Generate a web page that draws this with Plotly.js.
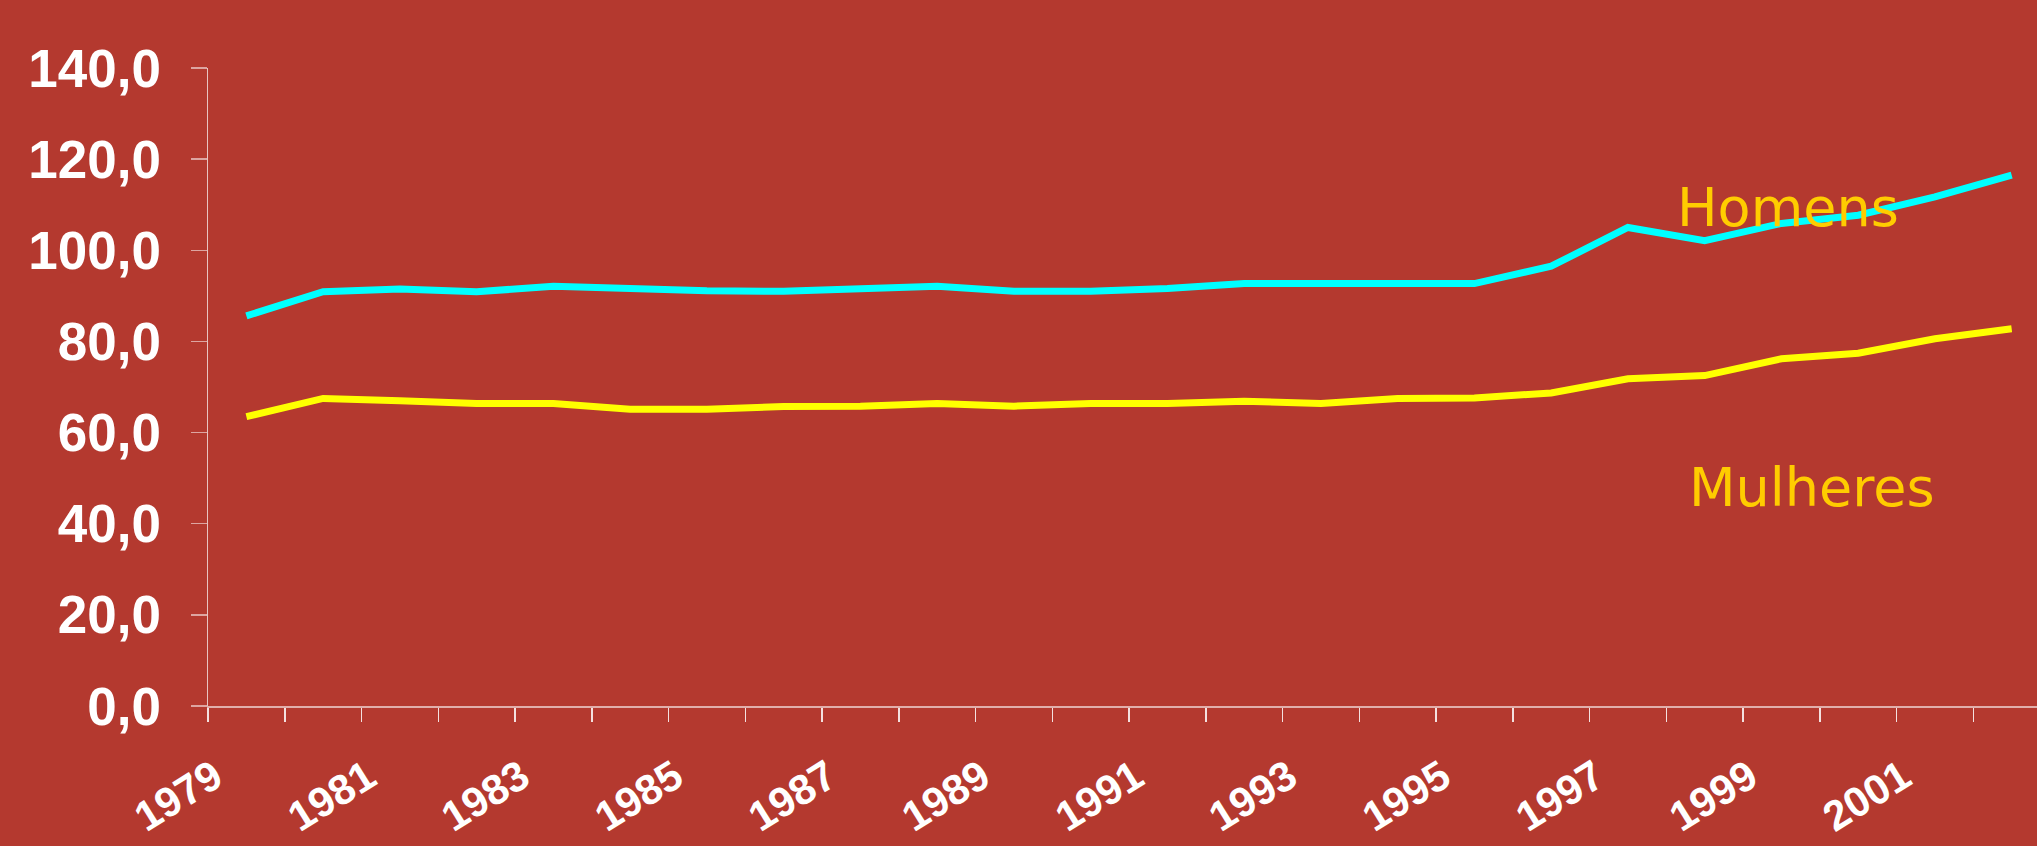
<!DOCTYPE html>
<html>
<head>
<meta charset="utf-8">
<script src="https://cdn.plot.ly/plotly-3.0.1.min.js"></script>
<style>
  html, body { margin: 0; padding: 0; background: #B4392F; }
  #chart { width: 2037px; height: 846px; }
</style>
</head>
<body>
<div id="chart"></div>
<script>
const years = [1979, 1980, 1981, 1982, 1983, 1984, 1985, 1986, 1987, 1988, 1989, 1990,
               1991, 1992, 1993, 1994, 1995, 1996, 1997, 1998, 1999, 2000, 2001, 2002];
const homens = [85.6, 90.9, 91.5, 90.9, 92.1, 91.5, 91.1, 91.0, 91.5, 92.1, 91.0, 91.0,
                91.6, 92.7, 92.7, 92.7, 92.7, 96.5, 105.0, 102.1, 105.9, 107.7, 111.7, 116.5];
const mulheres = [63.5, 67.5, 67.0, 66.4, 66.4, 65.1, 65.1, 65.7, 65.8, 66.4, 65.8, 66.4,
                  66.4, 66.9, 66.4, 67.5, 67.6, 68.7, 71.8, 72.5, 76.2, 77.4, 80.6, 82.8];
const yearLabels = [1979, 1981, 1983, 1985, 1987, 1989, 1991, 1993, 1995, 1997, 1999, 2001];
const yTicks = [0, 20, 40, 60, 80, 100, 120, 140];
const seriesNames = ["Homens", "Mulheres"];

// category boundaries for the tick marks
const boundaries = years.map(y => y - 0.5);

const traces = [
  { x: years, y: homens, name: seriesNames[0], type: 'scatter', mode: 'lines',
    line: { color: '#00FFFF', width: 7 }, hoverinfo: 'x+y' },
  { x: years, y: mulheres, name: seriesNames[1], type: 'scatter', mode: 'lines',
    line: { color: '#FFFF00', width: 7 }, hoverinfo: 'x+y' }
];

const layout = {
  width: 2037, height: 846,
  margin: { l: 208, r: 0, t: 68, b: 140, pad: 0 },
  paper_bgcolor: '#B4392F',
  plot_bgcolor: '#B4392F',
  separators: ',.',
  showlegend: false,
  xaxis: {
    type: 'linear',
    range: [1978.5, 2002.33],
    tickvals: yearLabels,
    ticktext: yearLabels.map(String),
    ticks: '',
    tickangle: -32,
    ticklabelshift: -32,
    ticklabelstandoff: 28,
    tickfont: { family: 'Liberation Sans, Arial, sans-serif', size: 42, color: '#FFFFFF', weight: 'bold' },
    showgrid: false, zeroline: false,
    showline: true, linecolor: 'rgba(255,255,255,0.6)', linewidth: 2,
    minor: { tickvals: boundaries, ticks: 'outside', ticklen: 14, tickcolor: 'rgba(255,255,255,0.85)', tickwidth: 1.5, showgrid: false },
    automargin: false,
    fixedrange: true
  },
  yaxis: {
    range: [0, 140],
    tickvals: yTicks,
    tickformat: '.1f',
    ticks: 'outside', ticklen: 16, tickcolor: 'rgba(255,255,255,0.55)', tickwidth: 1.5,
    ticklabelstandoff: 19,
    tickfont: { family: 'Liberation Sans, Arial, sans-serif', size: 53, color: '#FFFFFF', weight: 'bold' },
    showgrid: false, zeroline: false,
    showline: true, linecolor: 'rgba(255,255,255,0.7)', linewidth: 1.5,
    automargin: false,
    fixedrange: true
  },
  annotations: [
    { text: seriesNames[0], x: 1999.09, y: 109.3, xref: 'x', yref: 'y',
      xanchor: 'center', yanchor: 'middle', showarrow: false,
      font: { family: 'DejaVu Sans, sans-serif', size: 54, color: '#FFCC00' } },
    { text: seriesNames[1], x: 1999.4, y: 48.0, xref: 'x', yref: 'y',
      xanchor: 'center', yanchor: 'middle', showarrow: false,
      font: { family: 'DejaVu Sans, sans-serif', size: 54, color: '#FFCC00' } }
  ]
};

Plotly.newPlot('chart', traces, layout, { displayModeBar: false, staticPlot: true });
</script>
</body>
</html>
